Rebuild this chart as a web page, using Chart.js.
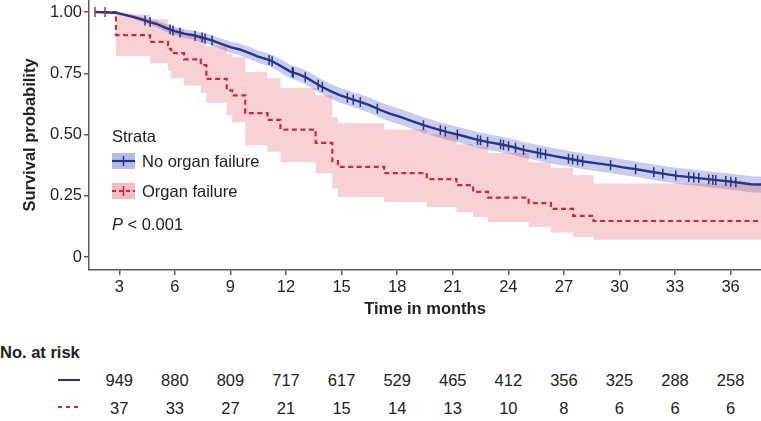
<!DOCTYPE html>
<html>
<head>
<meta charset="utf-8">
<script src="https://cdn.jsdelivr.net/npm/chart.js@4.4.0/dist/chart.umd.min.js"></script>
<style>
  body { margin: 0; background: #fff; font-family: "Liberation Sans", Arial, sans-serif; color: #222; }
  #wrap { position: relative; width: 761px; height: 421px; overflow: hidden; }
  #plot { position: absolute; left: 0; top: 0; width: 761px; height: 320px; }
  .txt { position: absolute; font-size: 16.5px; line-height: 20px; white-space: nowrap; }
  .num { transform: translateX(-50%); }
  svg { position: absolute; overflow: visible; }
</style>
</head>
<body>
<div id="wrap">
  <div id="plot"><canvas id="km"></canvas></div>

  <div class="txt" style="left:112px;top:126px">Strata</div>
  <svg style="left:112px;top:153px" width="23" height="16">
    <rect width="23" height="16" fill="rgba(60,80,190,0.38)"/>
    <line x1="0" y1="8" x2="23" y2="8" stroke="#27348b" stroke-width="2.2"/>
    <line x1="11.5" y1="3" x2="11.5" y2="13" stroke="#27348b" stroke-width="1.5"/>
  </svg>
  <div class="txt" style="left:142px;top:151px">No organ failure</div>
  <svg style="left:112px;top:183px" width="23" height="16">
    <rect width="23" height="16" fill="rgba(225,80,90,0.38)"/>
    <line x1="0" y1="8" x2="23" y2="8" stroke="#cc2a3a" stroke-width="2" stroke-dasharray="4 3"/>
    <line x1="11.5" y1="3" x2="11.5" y2="13" stroke="#cc2a3a" stroke-width="1.5"/>
  </svg>
  <div class="txt" style="left:142px;top:181px">Organ failure</div>
  <div class="txt" style="left:112px;top:214px"><i>P</i> &lt; 0.001</div>

  <div class="txt" style="left:0;top:342px;font-weight:bold">No. at risk</div>
  <svg style="left:58px;top:379px" width="22" height="2">
    <line x1="0" y1="1" x2="22" y2="1" stroke="#27348b" stroke-width="2"/>
  </svg>
  <svg style="left:58px;top:406px" width="22" height="2">
    <line x1="0" y1="1" x2="22" y2="1" stroke="#cc2a3a" stroke-width="2" stroke-dasharray="4 4"/>
  </svg>
  <div id="risk"></div>
</div>

<script>
// axis ticks
const xTicks = [3, 6, 9, 12, 15, 18, 21, 24, 27, 30, 33, 36];
const yTicks = [0, 0.25, 0.5, 0.75, 1];
const yTickLabels = ['0', '0.25', '0.50', '0.75', '1.00'];

// number at risk (at the x ticks)
const riskNoFailure = [949, 880, 809, 717, 617, 529, 465, 412, 356, 325, 288, 258];
const riskFailure = [37, 33, 27, 21, 15, 14, 13, 10, 8, 6, 6, 6];

// No organ failure: survival and 95% band
const blueTime = [1.69, 2.8, 3.2, 3.75, 4.3, 4.7, 5.0, 5.5, 6.0, 6.5, 7.0, 7.5, 8.0, 8.5, 9.0, 9.5, 10.0, 10.5,
  11.15, 11.6, 12.23, 12.7, 13.15, 13.85, 14.4, 14.93, 15.5, 16.0, 16.5, 17.09, 17.6, 18.17, 18.8, 19.42, 20.1,
  20.71, 21.42, 22.34, 23.0, 23.58, 24.2, 24.82, 25.74, 26.5, 27.2, 28.06, 28.8, 29.52, 30.2, 30.98, 31.85, 32.5,
  33.15, 33.8, 34.39, 35.1, 35.85, 36.5, 37.09, 38];
const blueSurv = [1.0, 0.997, 0.99, 0.98, 0.968, 0.958, 0.952, 0.935, 0.922, 0.912, 0.905, 0.895, 0.884, 0.87,
  0.857, 0.847, 0.833, 0.818, 0.803, 0.785, 0.757, 0.745, 0.73, 0.698, 0.677, 0.66, 0.645, 0.633, 0.62, 0.6,
  0.585, 0.572, 0.555, 0.538, 0.523, 0.51, 0.497, 0.478, 0.468, 0.46, 0.45, 0.437, 0.423, 0.412, 0.402, 0.39,
  0.382, 0.375, 0.366, 0.357, 0.346, 0.338, 0.331, 0.326, 0.321, 0.315, 0.309, 0.303, 0.297, 0.295];
const blueLower = [1.0, 0.994, 0.984, 0.971, 0.957, 0.945, 0.938, 0.919, 0.905, 0.894, 0.886, 0.875, 0.863, 0.848,
  0.834, 0.823, 0.808, 0.793, 0.777, 0.758, 0.729, 0.717, 0.701, 0.668, 0.647, 0.63, 0.614, 0.602, 0.589, 0.568,
  0.553, 0.54, 0.523, 0.506, 0.491, 0.478, 0.465, 0.446, 0.436, 0.428, 0.418, 0.405, 0.391, 0.38, 0.37, 0.358,
  0.35, 0.343, 0.334, 0.325, 0.314, 0.306, 0.299, 0.294, 0.289, 0.283, 0.276, 0.27, 0.264, 0.262];
const blueUpper = [1.0, 1.0, 0.996, 0.989, 0.979, 0.971, 0.966, 0.951, 0.939, 0.93, 0.924, 0.915, 0.905, 0.892,
  0.88, 0.871, 0.858, 0.843, 0.829, 0.812, 0.785, 0.773, 0.759, 0.728, 0.707, 0.69, 0.676, 0.664, 0.651, 0.632,
  0.617, 0.604, 0.587, 0.57, 0.555, 0.542, 0.529, 0.51, 0.5, 0.492, 0.482, 0.469, 0.455, 0.444, 0.434, 0.422,
  0.414, 0.407, 0.398, 0.389, 0.378, 0.37, 0.363, 0.358, 0.353, 0.347, 0.342, 0.336, 0.33, 0.328];
const blueCensor = [4.39, 4.66, 5.74, 5.9, 6.28, 7.09, 7.47, 7.63, 8.01, 11.09, 11.25, 12.34, 12.39, 13.04, 13.74,
  13.96, 15.31, 15.63, 16.01, 16.93, 19.42, 20.33, 20.6, 21.25, 22.34, 22.5, 22.88, 23.58, 23.74, 24.01, 24.39,
  24.82, 25.58, 25.74, 26.01, 27.25, 27.47, 27.74, 28.01, 29.52, 30.87, 31.85, 32.34, 33.04, 33.74, 34.01, 34.28,
  34.82, 35.04, 35.2, 35.74, 36.01, 36.28];

// Organ failure: step survival and 95% band
const redTime = [1.69, 2.82, 4.66, 5.63, 5.8, 6.5, 7.4, 7.7, 8.8, 9.1, 9.8, 11.0, 11.7, 13.6, 14.5, 14.8, 17.3,
  19.6, 21.2, 22.1, 22.9, 25.1, 26.3, 27.5, 28.6, 38];
const redSurv = [1.0, 0.906, 0.878, 0.85, 0.832, 0.807, 0.783, 0.727, 0.68, 0.66, 0.587, 0.56, 0.52, 0.466, 0.391,
  0.368, 0.342, 0.318, 0.293, 0.266, 0.242, 0.22, 0.196, 0.168, 0.147, 0.147];
const redLower = [1.0, 0.82, 0.79, 0.76, 0.73, 0.7, 0.67, 0.63, 0.58, 0.55, 0.456, 0.43, 0.387, 0.342, 0.28, 0.245,
  0.224, 0.204, 0.183, 0.163, 0.143, 0.122, 0.1, 0.082, 0.07, 0.07];
const redUpper = [1.0, 0.99, 0.97, 0.95, 0.93, 0.91, 0.89, 0.86, 0.83, 0.815, 0.755, 0.73, 0.69, 0.66, 0.57, 0.546,
  0.52, 0.5, 0.46, 0.45, 0.424, 0.387, 0.363, 0.334, 0.3, 0.3];
const redCensor = [1.69, 2.23];

const BLUE = '#27348b';
const RED = '#cc2a3a';
const AXIS = '#5c5c5c';
const FONT = '"Liberation Sans", Arial, sans-serif';

function pts(xs, ys) { return xs.map((x, i) => ({ x, y: ys[i] })); }

// censor marks sit on the curve at their time
function onCurve(times, surv, t, stepped) {
  let i = 0;
  while (i < times.length - 1 && times[i + 1] <= t) i++;
  if (stepped || i === times.length - 1) return surv[i];
  const f = (t - times[i]) / (times[i + 1] - times[i]);
  return surv[i] + f * (surv[i + 1] - surv[i]);
}

const band = (data, fill, color, order) => ({
  data, order, fill, backgroundColor: color, borderWidth: 0, pointRadius: 0
});

const chart = new Chart(document.getElementById('km'), {
  type: 'line',
  data: {
    datasets: [
      { data: blueCensor.map(t => ({ x: t, y: onCurve(blueTime, blueSurv, t, false) })), order: 0,
        showLine: false, pointStyle: 'line', pointRotation: 90, pointRadius: 5, pointBorderWidth: 1.5,
        pointBorderColor: BLUE, borderColor: BLUE },
      { data: redCensor.map(t => ({ x: t, y: onCurve(redTime, redSurv, t, true) })), order: 1,
        showLine: false, pointStyle: 'line', pointRotation: 90, pointRadius: 5, pointBorderWidth: 1.5,
        pointBorderColor: RED, borderColor: RED },
      { data: pts(blueTime, blueSurv), order: 2, borderColor: BLUE, borderWidth: 2.4, pointRadius: 0, fill: false },
      { data: pts(redTime, redSurv), order: 3, borderColor: RED, borderWidth: 2.2, borderDash: [5, 3.5],
        stepped: true, pointRadius: 0, fill: false },
      band(pts(blueTime, blueUpper), false, 'transparent', 6),
      band(pts(blueTime, blueLower), '-1', 'rgba(40,60,175,0.26)', 7),
      Object.assign(band(pts(redTime, redUpper), false, 'transparent', 4), { stepped: true }),
      Object.assign(band(pts(redTime, redLower), '-1', 'rgba(222,72,82,0.25)', 5), { stepped: true })
    ]
  },
  options: {
    responsive: true,
    maintainAspectRatio: false,
    animation: false,
    events: [],
    layout: { padding: 0, autoPadding: false },
    plugins: { legend: { display: false }, tooltip: { enabled: false } },
    scales: {
      x: {
        type: 'linear', min: 1.365, max: 37.64,
        afterBuildTicks: s => { s.ticks = xTicks.map(v => ({ value: v })); },
        afterFit: s => { s.height = 50; s.paddingLeft = 0; s.paddingRight = 0; },
        grid: { drawOnChartArea: false, drawTicks: true, tickLength: 5, color: AXIS, lineWidth: 1.5 },
        border: { display: true, color: AXIS, width: 1.5 },
        ticks: { padding: 3, color: '#222', font: { family: FONT, size: 16.5 }, maxRotation: 0 },
        title: { display: true, text: 'Time in months', color: '#222',
          font: { family: FONT, size: 16.5, weight: 'bold' }, padding: { top: 0, bottom: 1 } }
      },
      y: {
        min: -0.0531, max: 1.049,
        afterBuildTicks: s => { s.ticks = yTicks.map(v => ({ value: v })); },
        afterFit: s => { s.width = 89; s.paddingTop = 0; s.paddingBottom = 0; },
        grid: { drawOnChartArea: false, drawTicks: true, tickLength: 5, color: AXIS, lineWidth: 1.5 },
        border: { display: true, color: AXIS, width: 1.5 },
        ticks: { padding: 2, color: '#222', font: { family: FONT, size: 16.5 },
          callback: v => yTickLabels[yTicks.indexOf(v)] },
        title: { display: true, text: 'Survival probability', color: '#222',
          font: { family: FONT, size: 16.5, weight: 'bold' }, padding: { top: 21, bottom: 0 } }
      }
    }
  }
});

// risk table, placed under the x ticks
const risk = document.getElementById('risk');
xTicks.forEach((t, i) => {
  const x = chart.scales.x.getPixelForValue(t);
  [[riskNoFailure[i], 370], [riskFailure[i], 398]].forEach(([n, top]) => {
    const d = document.createElement('div');
    d.className = 'txt num';
    d.style.left = x + 'px';
    d.style.top = top + 'px';
    d.textContent = n;
    risk.appendChild(d);
  });
});
</script>
</body>
</html>
